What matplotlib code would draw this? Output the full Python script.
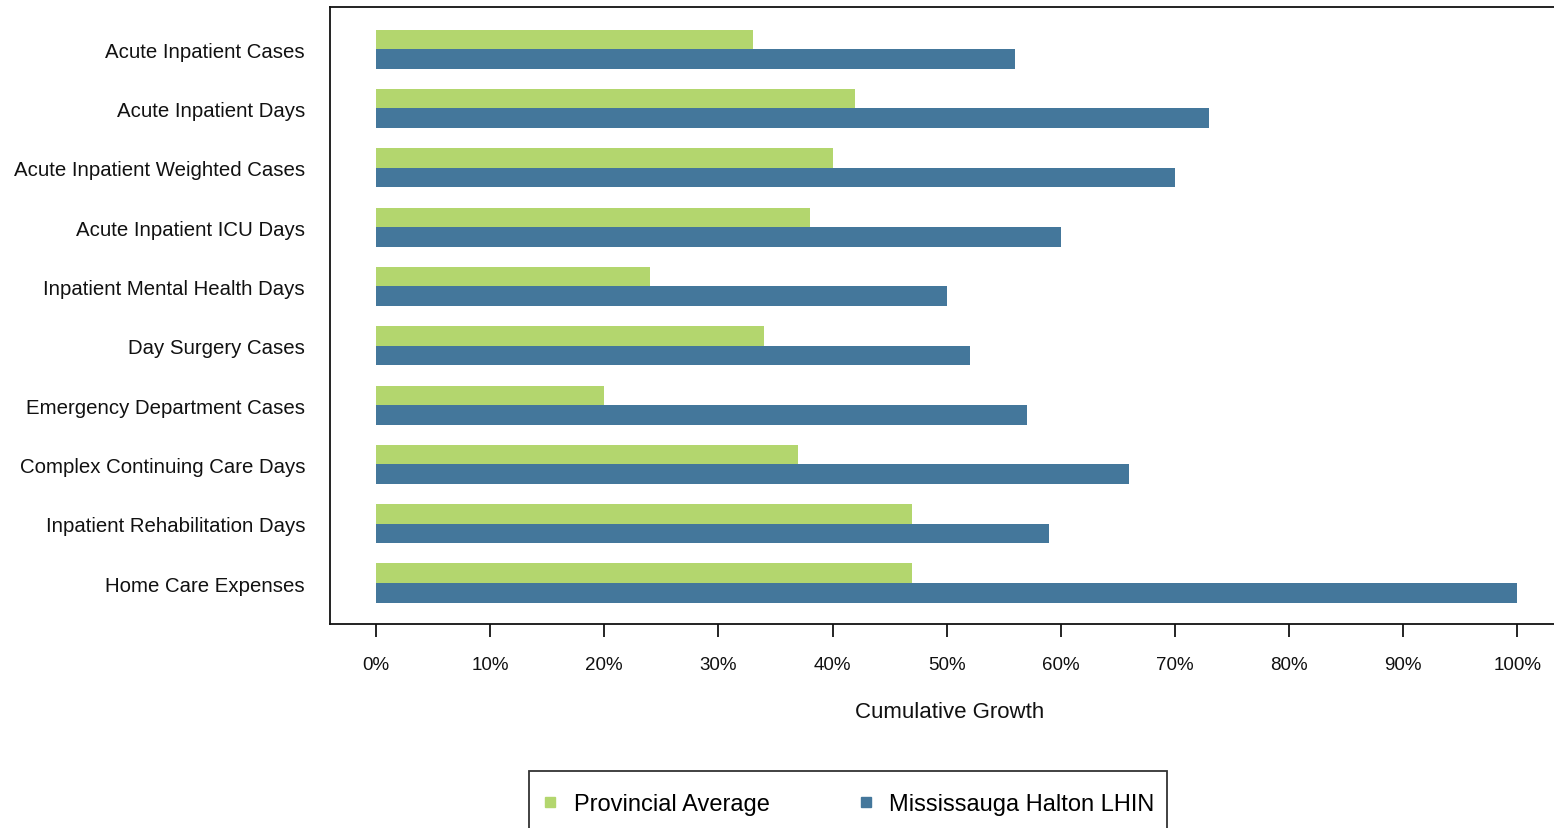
import matplotlib
matplotlib.use("Agg")
import matplotlib.pyplot as plt
from matplotlib.lines import Line2D
from matplotlib.patches import Rectangle
import numpy as np

categories = [
    "Acute Inpatient Cases",
    "Acute Inpatient Days",
    "Acute Inpatient Weighted Cases",
    "Acute Inpatient ICU Days",
    "Inpatient Mental Health Days",
    "Day Surgery Cases",
    "Emergency Department Cases",
    "Complex Continuing Care Days",
    "Inpatient Rehabilitation Days",
    "Home Care Expenses",
]
provincial = [33, 42, 40, 38, 24, 34, 20, 37, 47, 47]
lhin = [56, 73, 70, 60, 50, 52, 57, 66, 59, 100]
xticks = [0, 10, 20, 30, 40, 50, 60, 70, 80, 90, 100]
xtick_labels = [f"{t}%" for t in xticks]

GREEN = "#B3D66E"
BLUE = "#44779B"

plt.rcParams["font.family"] = ["Liberation Sans", "DejaVu Sans"]

W, H = 1554, 829
fig = plt.figure(figsize=(W / 100, H / 100), dpi=100)
ax = fig.add_axes([330 / W, 1 - 625 / H, 1 - 330 / W + 0.01, (625 - 8) / H])

y = np.arange(len(categories))
h = 0.33
ax.barh(y - h / 2, provincial, height=h, color=GREEN, label="Provincial Average")
ax.barh(y + h / 2, lhin, height=h, color=BLUE, label="Mississauga Halton LHIN")

ax.set_xlim(-4.03, 103.2 + 0.01 * W / 11.41)
ax.set_ylim(len(categories) - 1 + 0.69, -0.71)

ax.set_yticks(y)
ax.set_yticklabels(categories, fontsize=14.7, color="#111111")
ax.tick_params(axis="y", length=0, pad=18)
ax.set_xticks(xticks)
ax.set_xticklabels(xtick_labels, fontsize=13.5, color="#111111")
ax.tick_params(axis="x", length=9.4, width=1.2, pad=13.5)

ax.set_xlabel("Cumulative Growth", fontsize=16, labelpad=20, color="#111111")

for s in ["left", "top", "bottom"]:
    ax.spines[s].set_linewidth(1.3)
    ax.spines[s].set_color("#111111")
ax.spines["right"].set_visible(False)

handles = [
    Line2D([], [], marker="s", ls="", color=GREEN, markersize=7),
    Line2D([], [], marker="s", ls="", color=BLUE, markersize=7),
]
leg = fig.legend(
    handles,
    ["Provincial Average", "Mississauga Halton LHIN"],
    loc="center left",
    bbox_to_anchor=(529 / W, 1 - 805 / H),
    ncol=2,
    fontsize=17,
    frameon=False,
    handlelength=0.8,
    handletextpad=0.6,
    columnspacing=3.67,
    borderpad=0.5,
    borderaxespad=0,
)
fig.patches.append(
    Rectangle((529 / W, -0.05), (1167 - 529) / W, 0.05 + 1 - 772 / H,
              transform=fig.transFigure, fill=False, edgecolor="#333333",
              linewidth=1.3)
)

fig.savefig("out.png", dpi=100)
